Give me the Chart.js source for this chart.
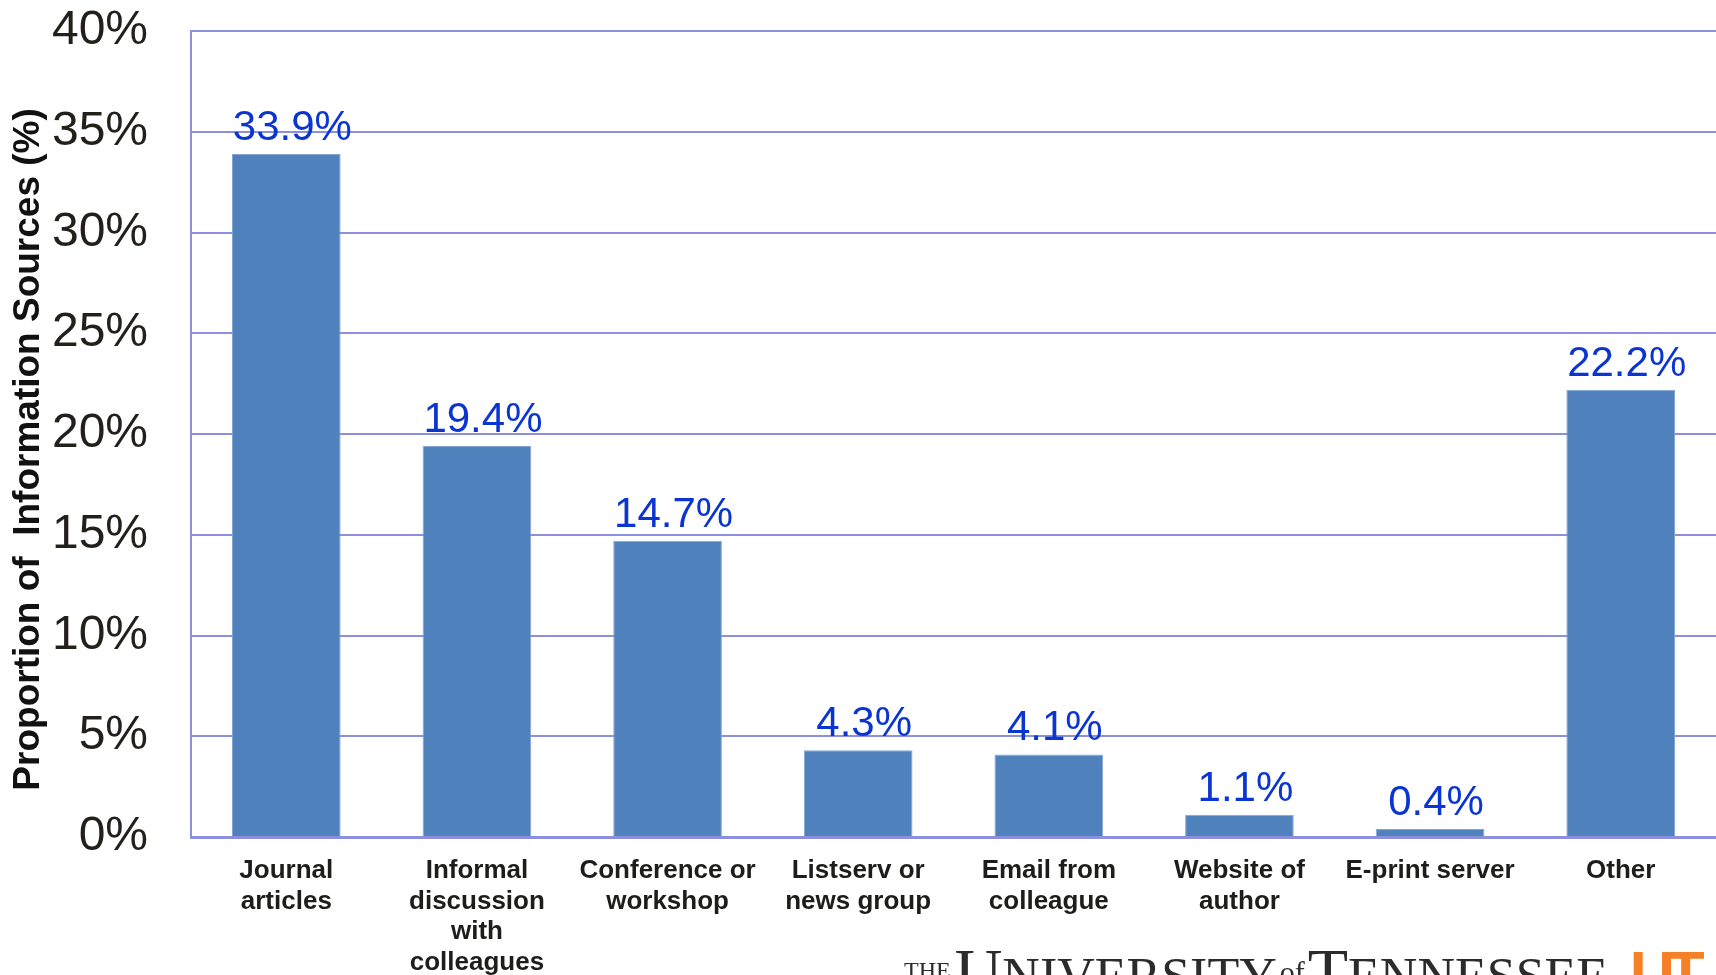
<!DOCTYPE html>
<html>
<head>
<meta charset="utf-8">
<script src="https://cdn.jsdelivr.net/npm/chart.js@4.4.1/dist/chart.umd.min.js"></script>
<style>
  html, body { margin: 0; padding: 0; background: #ffffff; overflow: hidden; }
  #wrap { position: relative; width: 1716px; height: 975px; overflow: hidden; }
  canvas { display: block; }
  #logo {
    position: absolute; left: 904px; top: 939px; white-space: nowrap;
    font-family: "Liberation Serif", "DejaVu Serif", serif; color: #2b2b2b;
    line-height: 1; font-size: 66px; filter: blur(0.4px);
  }
  #logo .s { font-size: 24px; vertical-align: 16px; margin-right: 4px; }
  #logo .m { font-size: 52px; letter-spacing: 0px; }
  #logo .o { font-size: 30px; vertical-align: 12px; margin: 0 3px; }
  #logo .ut { font-family: "Liberation Sans", Arial, sans-serif; font-weight: bold; color: #F58025; font-size: 62px; margin-left: 22px; letter-spacing: -8px; }
</style>
</head>
<body>
<div id="wrap">
  <canvas id="c" width="1716" height="975"></canvas>
  <div id="logo"><span class="s">THE</span>U<span class="m">NIVERSITY</span><span class="o">of</span>T<span class="m">ENNESSEE</span><span class="ut">UT</span></div>
</div>
<script>
const categories = [
  ["Journal", "articles"],
  ["Informal", "discussion", "with", "colleagues"],
  ["Conference or", "workshop"],
  ["Listserv or", "news group"],
  ["Email from", "colleague"],
  ["Website of", "author"],
  ["E-print server"],
  ["Other"]
];
const values = [33.9, 19.4, 14.7, 4.3, 4.1, 1.1, 0.4, 22.2];
const yTickLabels = ["0%", "5%", "10%", "15%", "20%", "25%", "30%", "35%", "40%"];
const yTitle = "Proportion of  Information Sources (%)   ";

const valueLabels = {
  id: 'valueLabels',
  afterDatasetsDraw(chart) {
    const ctx = chart.ctx;
    const meta = chart.getDatasetMeta(0);
    ctx.save();
    ctx.font = '42px "Liberation Sans", Arial, sans-serif';
    ctx.fillStyle = '#0B35D2';
    ctx.textAlign = 'center';
    ctx.textBaseline = 'alphabetic';
    meta.data.forEach((bar, i) => {
      ctx.fillText(values[i].toFixed(1) + '%', bar.x + 6, bar.y - 14);
    });
    ctx.restore();
  }
};

const gridColor = '#8C90DC';

new Chart(document.getElementById('c'), {
  type: 'bar',
  data: {
    labels: categories,
    datasets: [{
      data: values,
      backgroundColor: '#4F81BD',
      borderColor: '#86A6D4',
      borderWidth: 1,
      categoryPercentage: 1.0,
      barPercentage: 0.57
    }]
  },
  options: {
    responsive: false,
    animation: false,
    devicePixelRatio: 1,
    layout: { padding: { top: 31, left: 0, right: 0, bottom: 0 } },
    plugins: { legend: { display: false }, tooltip: { enabled: false } },
    scales: {
      x: {
        grid: { display: false, drawTicks: false },
        border: { display: true, color: gridColor, width: 3 },
        ticks: {
          autoSkip: false,
          maxRotation: 0,
          padding: 19,
          color: '#1d1d1b',
          font: { family: '"Liberation Sans", Arial, sans-serif', size: 26, weight: 'bold', lineHeight: 1.17 }
        },
        afterFit(scale) { scale.height = 138; scale.paddingLeft = 0; scale.paddingRight = 0; }
      },
      y: {
        min: 0,
        max: 40,
        ticks: {
          stepSize: 5,
          padding: 43,
          color: '#231F1A',
          font: { family: '"Liberation Sans", Arial, sans-serif', size: 48 },
          callback: (v) => yTickLabels[Math.round(v / 5)]
        },
        grid: { color: gridColor, lineWidth: 2, drawTicks: false },
        border: { display: true, color: gridColor, width: 2 },
        title: {
          display: true,
          text: yTitle,
          color: '#111111',
          font: { family: '"Liberation Sans", Arial, sans-serif', size: 37, weight: 'bold', lineHeight: 1.2 },
          padding: { top: 7, bottom: 5 }
        },
        afterFit(scale) { scale.width = 191; scale.paddingTop = 0; scale.paddingBottom = 0; }
      }
    }
  },
  plugins: [valueLabels]
});
</script>
</body>
</html>
